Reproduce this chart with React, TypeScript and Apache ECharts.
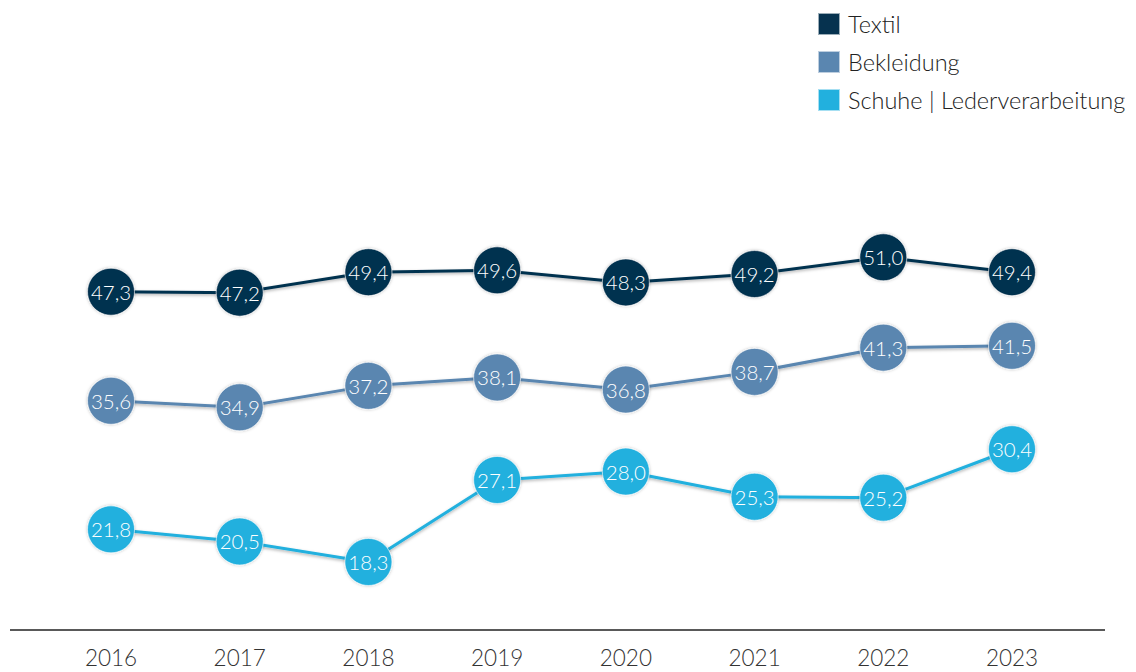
import React, { useEffect, useRef } from "react";
import * as echarts from "echarts";

const years = ["2016", "2017", "2018", "2019", "2020", "2021", "2022", "2023"];
const textil = [47.3, 47.2, 49.4, 49.6, 48.3, 49.2, 51.0, 49.4];
const bekleidung = [35.6, 34.9, 37.2, 38.1, 36.8, 38.7, 41.3, 41.5];
const schuhe = [21.8, 20.5, 18.3, 27.1, 28.0, 25.3, 25.2, 30.4];

const seriesNames = ["Textil", "Bekleidung", "Schuhe | Lederverarbeitung"];
const colors = ["#06324f", "#5a86b0", "#22b0de"];

const FONT = "Lato, 'Open Sans', sans-serif";

export default function App() {
  const ref = useRef<HTMLDivElement>(null);
  useEffect(() => {
    document.body.style.margin = "0";
    if (!ref.current) return;
    const chart = echarts.init(ref.current, null, { renderer: "svg" });
    const dataSets = [textil, bekleidung, schuhe];
    chart.setOption({
      animation: false,
      color: colors,
      legend: {
        orient: "vertical",
        left: 812,
        top: 7,
        itemWidth: 22,
        itemHeight: 22,
        itemGap: 14,
        icon: "rect",
        textStyle: { fontFamily: FONT, fontSize: 23.5, color: "#222", fontWeight: 300, padding: [0, 0, 0, 3], lineHeight: 24 },
        data: seriesNames,
      },
      grid: { left: 111, right: 124, top: 173.4, bottom: 42 },
      xAxis: {
        type: "category",
        data: years,
        boundaryGap: false,
        axisLine: { show: false },
        axisTick: { show: false },
        axisLabel: { margin: 16, fontFamily: FONT, fontSize: 22.5, color: "#333", fontWeight: 300 },
        splitLine: { show: false },
      },
      yAxis: {
        type: "value",
        min: 11,
        max: 60,
        show: false,
        splitLine: { show: false },
      },
      graphic: [
        {
          type: "line",
          shape: { x1: 10, y1: 630, x2: 1105, y2: 630 },
          style: { stroke: "#222", lineWidth: 1.5 },
          silent: true,
        },
      ],
      series: dataSets.map((d, i) => ({
        name: seriesNames[i],
        type: "line",
        data: d,
        symbol: "circle",
        symbolSize: 47,
        lineStyle: { width: 3, color: colors[i], shadowColor: "rgba(0,0,0,0.3)", shadowBlur: 3, shadowOffsetY: 1.5 },
        itemStyle: { color: colors[i], borderColor: "rgba(255,255,255,0.6)", borderWidth: 1, shadowColor: "rgba(0,0,0,0.25)", shadowBlur: 3 },
        label: {
          show: true,
          position: "inside",
          color: "#fff",
          fontFamily: FONT,
          fontSize: 20.5,
          fontWeight: 300,
          formatter: (p: any) => Number(p.value).toFixed(1).replace(".", ","),
        },
        emphasis: { disabled: true },
      })),
    });
    return () => chart.dispose();
  }, []);
  return <div ref={ref} style={{ position: "absolute", left: 0, top: 0, width: 1136, height: 672 }} />;
}
